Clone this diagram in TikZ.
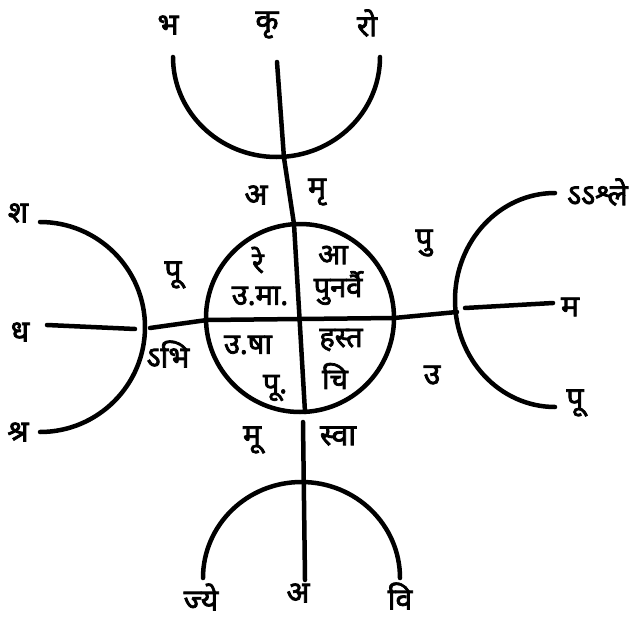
\documentclass[tikz,border=0pt]{standalone}
\usepackage{fontspec}
\newfontfamily\deva[Script=Devanagari,FakeBold=2.5]{Noto Sans}
\begin{document}
\begin{tikzpicture}[x=1pt,y=-1pt,
  stroke/.style={line width=4.5pt,line cap=round},
  lbl/.style={font=\deva\fontsize{30}{32}\selectfont,inner sep=0pt},
  ilbl/.style={font=\deva\fontsize{29}{31}\selectfont,inner sep=0pt}]
\useasboundingbox (0,0) rectangle (629,623);
% central circle
\node[circle,draw,stroke,minimum size=188pt,inner sep=0pt] (c) at (300,318) {};
\coordinate (cN) at (294,224);
\coordinate (cS) at (305,412);
\coordinate (cW) at (207,320);
\coordinate (cE) at (394,318);
\draw[stroke] (cN) -- (cS);
\draw[stroke] (cW) -- (cE);
% top arc
\coordinate (taL) at (173,57);
\draw[stroke] (taL) arc[start angle=180,end angle=0,x radius=103.5,y radius=100];
\coordinate (tTop) at (277,62);
\coordinate (tMid) at (284,158);
\draw[stroke] (tTop) -- (tMid) -- (cN);
% bottom arc
\coordinate (baL) at (203,578);
\draw[stroke] (baL) arc[start angle=180,end angle=360,x radius=98.5,y radius=96];
\coordinate (bTop) at (303,422);
\coordinate (bBot) at (305,580);
\draw[stroke] (bTop) -- (bBot);
% left arc
\coordinate (laT) at (40,222);
\draw[stroke] (laT) arc[start angle=-90,end angle=90,x radius=105,y radius=105];
\coordinate (lIn1) at (47,325);
\coordinate (lIn2) at (135,329);
\coordinate (lOut) at (150,328);
\draw[stroke] (lIn1) -- (lIn2);
\draw[stroke] (lOut) -- (cW);
% right arc
\coordinate (raT) at (555,193);
\draw[stroke] (raT) arc[start angle=270,end angle=90,x radius=100,y radius=107];
\coordinate (rOut) at (457,312);
\coordinate (rIn1) at (465,308);
\coordinate (rIn2) at (553,303);
\draw[stroke] (cE) -- (rOut);
\draw[stroke] (rIn1) -- (rIn2);
% outer labels
\node[lbl] (l1) at (168,25) {भ};
\node[lbl] (l2) at (267,25) {कृ};
\node[lbl] (l3) at (367,23) {रो};
\node[lbl] (l4) at (256,195) {अ};
\node[lbl] (l5) at (317,192) {मृ};
\node[lbl] (l6) at (424,243) {पु};
\node[lbl,anchor=east] (l7) at (628,192) {ऽऽश्ले};
\node[lbl] (l8) at (570,307) {म};
\node[lbl] (l9) at (575,403) {पू};
\node[lbl] (l10) at (432,375) {उ};
\node[lbl] (l11) at (338,436) {स्वा};
\node[lbl] (l12) at (252,440) {मू};
\node[lbl] (l13) at (201,597) {ज्ये};
\node[lbl] (l14) at (298,593) {अ};
\node[lbl] (l15) at (400,596) {वि};
\node[lbl] (l16) at (18,432) {श्र};
\node[lbl] (l17) at (20,332) {ध};
\node[lbl] (l18) at (18,213) {श};
\node[lbl] (l19) at (173,275) {पू};
\node[lbl] (l20) at (168,354) {ऽभि};
% inner labels
\node[ilbl] (i1) at (258,260) {रे};
\node[ilbl] (i2) at (260,296) {उ.मा.};
\node[ilbl] (i3) at (333,255) {आ};
\node[ilbl] (i4) at (338,288) {पुनर्वै};
\node[ilbl] (i5) at (248,345) {उ.षा};
\node[ilbl] (i6) at (275,388) {पू.};
\node[ilbl] (i7) at (341,340) {हस्त};
\node[ilbl] (i8) at (335,376) {चि};
\end{tikzpicture}
\end{document}
